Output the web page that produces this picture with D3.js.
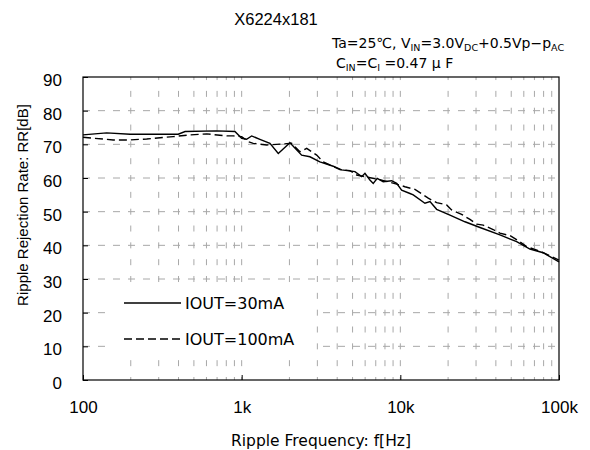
<!DOCTYPE html>
<html>
<head>
<meta charset="utf-8">
<script src="https://cdn.jsdelivr.net/npm/d3@7"></script>
<style>
  body { margin: 0; background: #fff; }
  text { font-family: "Liberation Sans", Arial, sans-serif; fill: #000; }
  .wide { font-family: "DejaVu Sans", sans-serif; }
</style>
</head>
<body>
<div id="chart"></div>
<script>
// frequency [Hz] and ripple rejection [dB]
const freq30 = [100, 141, 198, 398, 440, 695, 907, 1000, 1074, 1156, 1303, 1507, 1701, 2015, 2388, 2692, 3112, 3776, 4266, 5176, 5704, 5984, 6430, 6748, 7149, 7798, 8810, 9480, 10190, 11500, 12060, 14290, 15380, 16940, 20550, 25550, 31770, 42440, 54080, 65610, 79480, 100000];
const rr30 = [72.8, 73.4, 73.0, 73.0, 73.8, 74.0, 73.8, 71.8, 71.5, 72.5, 71.5, 70.3, 67.3, 70.5, 66.8, 66.3, 64.8, 63.5, 62.4, 61.9, 60.4, 61.4, 59.4, 58.4, 59.9, 58.9, 59.2, 58.4, 56.4, 55.4, 55.0, 52.5, 53.0, 50.7, 49.0, 47.0, 45.3, 43.1, 41.1, 38.9, 37.8, 35.1];

const freq100 = [100, 155, 198, 252, 371, 472, 602, 804, 885, 1000, 1101, 1183, 1438, 1828, 2065, 2329, 2570, 2971, 3268, 4159, 4811, 5305, 7430, 9480, 10690, 12360, 13930, 14990, 16940, 19580, 21040, 24330, 27460, 30270, 33290, 38460, 42440, 49070, 55340, 62520, 70470, 79480, 100000];
const rr100 = [72.1, 71.3, 71.3, 71.6, 72.3, 72.8, 73.1, 72.5, 72.5, 72.3, 70.8, 70.3, 69.8, 70.1, 70.3, 67.8, 68.8, 66.8, 64.8, 62.5, 62.2, 60.9, 59.5, 58.2, 57.4, 56.6, 55.0, 54.0, 52.7, 52.0, 50.5, 49.2, 47.7, 46.3, 46.0, 44.7, 43.6, 42.9, 41.4, 39.6, 38.8, 37.8, 35.6];

const xTickValues = [100, 1000, 10000, 100000];
const xTickLabels = ["100", "1k", "10k", "100k"];
const yTickValues = [0, 10, 20, 30, 40, 50, 60, 70, 80, 90];
const seriesNames = ["IOUT=30mA", "IOUT=100mA"];

const width = 590, height = 450;
const margin = { left: 83, right: 31, top: 77, bottom: 70 };

const svg = d3.select("#chart").append("svg")
  .attr("width", width)
  .attr("height", height);

const x = d3.scaleLog().domain([100, 100000]).range([margin.left, width - margin.right]);
const y = d3.scaleLinear().domain([0, 90]).range([height - margin.bottom, margin.top]);

// minor grid positions: 2..9 in every decade, plus 1k and 10k
const gridX = [];
[100, 1000, 10000].forEach(d => {
  for (let k = 1; k <= 9; k++) if (d * k > 100) gridX.push(d * k);
});

svg.append("g")
  .selectAll("line")
  .data(yTickValues.slice(1, -1))
  .enter().append("line")
  .attr("x1", x(100)).attr("x2", x(100000))
  .attr("y1", d => y(d)).attr("y2", d => y(d))
  .attr("stroke", "#a8a8a8")
  .attr("stroke-dasharray", "7,8");

svg.append("g")
  .selectAll("line")
  .data(gridX)
  .enter().append("line")
  .attr("x1", d => x(d)).attr("x2", d => x(d))
  .attr("y1", y(0)).attr("y2", y(90))
  .attr("stroke", "#a8a8a8")
  .attr("stroke-dasharray", "6,10.83")
  .attr("stroke-dashoffset", 3);

// data lines
const line = d3.line().x(d => x(d[0])).y(d => y(d[1]));

svg.append("path")
  .datum(d3.zip(freq30, rr30))
  .attr("fill", "none")
  .attr("stroke", "#000")
  .attr("stroke-width", 1.4)
  .attr("d", line);

svg.append("path")
  .datum(d3.zip(freq100, rr100))
  .attr("fill", "none")
  .attr("stroke", "#000")
  .attr("stroke-width", 1.4)
  .attr("stroke-dasharray", "8,4")
  .attr("d", line);

// legend (white box over the grid)
svg.append("rect")
  .attr("x", 106).attr("y", 286)
  .attr("width", 209).attr("height", 68)
  .attr("fill", "#fff");

const legend = svg.append("g")
  .selectAll("g")
  .data(seriesNames)
  .enter().append("g")
  .attr("transform", (d, i) => `translate(124, ${303 + i * 36})`);

legend.append("line")
  .attr("x1", 0).attr("x2", 57)
  .attr("stroke", "#000")
  .attr("stroke-width", 1.4)
  .attr("stroke-dasharray", (d, i) => i ? "8,4" : null);

legend.append("text")
  .attr("class", "wide")
  .attr("x", 61)
  .attr("dy", "0.36em")
  .style("font-size", "16px")
  .text(d => d);

// frame
svg.append("rect")
  .attr("x", x(100)).attr("y", y(90))
  .attr("width", x(100000) - x(100))
  .attr("height", y(0) - y(90))
  .attr("fill", "none")
  .attr("stroke", "#000")
  .attr("stroke-width", 1.2);

// axes
const yAxis = svg.append("g")
  .attr("transform", `translate(${x(100)},0)`)
  .call(d3.axisLeft(y).tickValues(yTickValues).tickSize(-5).tickPadding(21));
yAxis.select(".domain").remove();
yAxis.selectAll("text").style("font-size", "17px").attr("dy", "0.5em");

const xAxis = svg.append("g")
  .attr("transform", `translate(0,${y(0)})`)
  .call(d3.axisBottom(x).tickValues(xTickValues).tickFormat((d, i) => xTickLabels[i]).tickSize(-5).tickPadding(21));
xAxis.select(".domain").remove();
xAxis.selectAll("text").style("font-size", "17px");

// titles
svg.append("text")
  .attr("x", 276).attr("y", 25)
  .attr("text-anchor", "middle")
  .style("font-size", "16.5px")
  .text("X6224x181");

const cond1 = svg.append("text")
  .attr("class", "wide")
  .attr("x", 332).attr("y", 48)
  .style("font-size", "14px");
cond1.append("tspan").text("Ta=25\u2103, V");
cond1.append("tspan").attr("dy", 3).style("font-size", "9.5px").text("IN");
cond1.append("tspan").attr("dy", -3).text("=3.0V");
cond1.append("tspan").attr("dy", 3).style("font-size", "9.5px").text("DC");
cond1.append("tspan").attr("dy", -3).text("+0.5Vp\u2212p");
cond1.append("tspan").attr("dy", 3).style("font-size", "9.5px").text("AC");

const cond2 = svg.append("text")
  .attr("class", "wide")
  .attr("x", 336).attr("y", 68)
  .style("font-size", "14px");
cond2.append("tspan").text("C");
cond2.append("tspan").attr("dy", 3).style("font-size", "9.5px").text("IN");
cond2.append("tspan").attr("dy", -3).text("=C");
cond2.append("tspan").attr("dy", 3).style("font-size", "9.5px").text("I");
cond2.append("tspan").attr("dy", -3).text(" =0.47 \u03bc F");

svg.append("text")
  .attr("class", "wide")
  .attr("x", (x(100) + x(100000)) / 2).attr("y", 446)
  .attr("text-anchor", "middle")
  .style("font-size", "15.5px")
  .text("Ripple Frequency: f[Hz]");

svg.append("text")
  .attr("transform", "translate(28,205) rotate(-90)")
  .attr("text-anchor", "middle")
  .style("font-size", "15px")
  .text("Ripple Rejection Rate: RR[dB]");
</script>
</body>
</html>
